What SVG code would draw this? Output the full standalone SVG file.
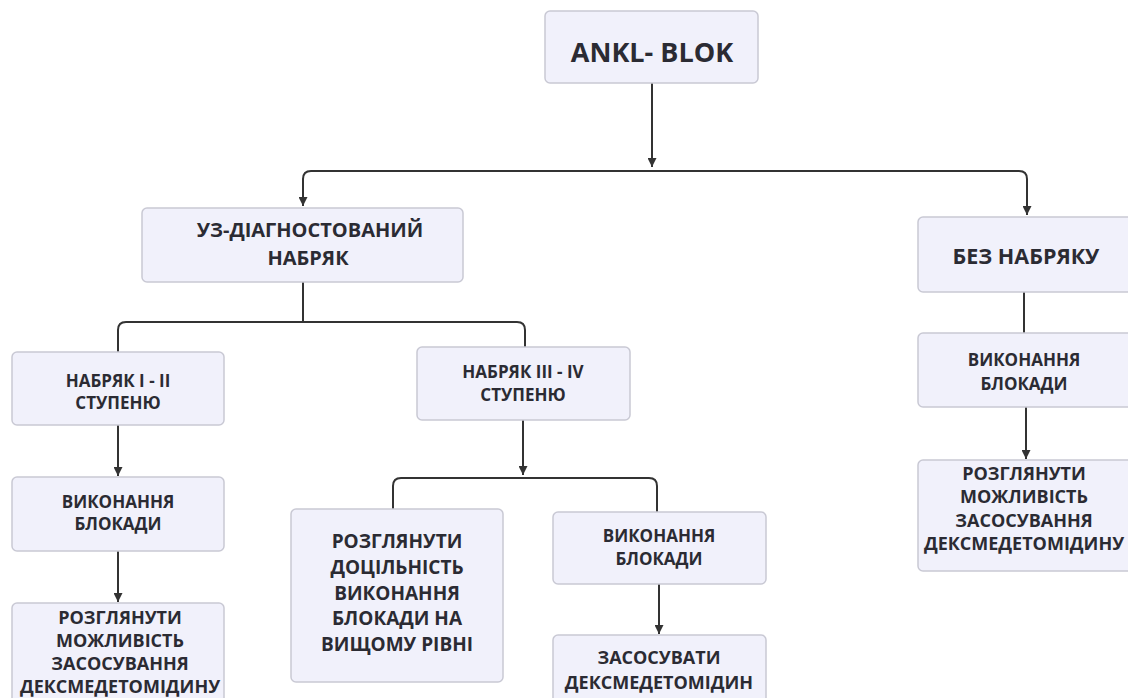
<svg xmlns="http://www.w3.org/2000/svg" width="1128" height="698" viewBox="0 0 1128 698">
<style>
.box{fill:#f1f1fb;stroke:#c9c9d4;stroke-width:1.5}
.t{font-family:"Open Sans","Noto Sans","DejaVu Sans",sans-serif;font-weight:700;fill:#2b2b33;text-anchor:middle}
.c{fill:none;stroke:#333;stroke-width:2}
</style>
<defs>
<marker id="arr" markerUnits="userSpaceOnUse" markerWidth="10" markerHeight="9" refX="9" refY="4.5" orient="auto">
<path d="M0,0 L9,4.5 L0,9 z" fill="#333"/>
</marker>
</defs>
<rect width="1128" height="698" fill="#ffffff"/>
<g id="connectors">
<path class="c" d="M652,83 V167" marker-end="url(#arr)"/>
<path class="c" d="M652,171 H311 Q303,171 303,179 V206" marker-end="url(#arr)"/>
<path class="c" d="M652,171 H1019 Q1027,171 1027,179 V215" marker-end="url(#arr)"/>
<path class="c" d="M303,282 V322 H126 Q118,322 118,330 V352"/>
<path class="c" d="M303,322 H517 Q525,322 525,330 V347"/>
<path class="c" d="M118,425 V476" marker-end="url(#arr)"/>
<path class="c" d="M118,551 V602" marker-end="url(#arr)"/>
<path class="c" d="M523,420 V475" marker-end="url(#arr)"/>
<path class="c" d="M523,478 H401 Q393,478 393,486 V509"/>
<path class="c" d="M523,478 H649 Q657,478 657,486 V512"/>
<path class="c" d="M659,584 V634" marker-end="url(#arr)"/>
<path class="c" d="M1024,292 V333"/>
<path class="c" d="M1026,407 V459" marker-end="url(#arr)"/>
</g>
<g id="n-ankl">
<rect class="box" x="545" y="11" width="213" height="72" rx="5"/>
<text class="t" x="652" y="62" font-size="27">ANKL- BLOK</text>
</g>
<g id="n-uz">
<rect class="box" x="142" y="208" width="321" height="74" rx="5"/>
<text class="t" x="310" y="237" font-size="20">УЗ-ДІАГНОСТОВАНИЙ</text>
<text class="t" x="308" y="265" font-size="20">НАБРЯК</text>
</g>
<g id="n-bez">
<rect class="box" x="918" y="217" width="220" height="75" rx="5"/>
<text class="t" x="1026" y="264" font-size="21.5">БЕЗ НАБРЯКУ</text>
</g>
<g id="n-12">
<rect class="box" x="12" y="352" width="212" height="73" rx="5"/>
<text class="t" x="118" y="387" font-size="17">НАБРЯК І - ІІ</text>
<text class="t" x="118" y="409" font-size="17">СТУПЕНЮ</text>
</g>
<g id="n-34">
<rect class="box" x="417" y="347" width="213" height="73" rx="5"/>
<text class="t" x="523" y="378" font-size="17">НАБРЯК ІІІ - IV</text>
<text class="t" x="523" y="401" font-size="17">СТУПЕНЮ</text>
</g>
<g id="n-vyk1">
<rect class="box" x="12" y="477" width="212" height="74" rx="5"/>
<text class="t" x="118" y="508" font-size="17">ВИКОНАННЯ</text>
<text class="t" x="118" y="530" font-size="17">БЛОКАДИ</text>
</g>
<g id="n-roz1">
<rect class="box" x="12" y="603" width="212" height="105" rx="5"/>
<text class="t" x="120" y="624" font-size="18">РОЗГЛЯНУТИ</text>
<text class="t" x="120" y="647" font-size="18">МОЖЛИВІСТЬ</text>
<text class="t" x="120" y="670" font-size="18">ЗАСОСУВАННЯ</text>
<text class="t" x="120" y="693" font-size="18">ДЕКСМЕДЕТОМІДИНУ</text>
</g>
<g id="n-rozd">
<rect class="box" x="291" y="509" width="212" height="173" rx="5"/>
<text class="t" x="397" y="548" font-size="19">РОЗГЛЯНУТИ</text>
<text class="t" x="397" y="574" font-size="19">ДОЦІЛЬНІСТЬ</text>
<text class="t" x="397" y="600" font-size="19">ВИКОНАННЯ</text>
<text class="t" x="397" y="625" font-size="19">БЛОКАДИ НА</text>
<text class="t" x="397" y="651" font-size="19">ВИЩОМУ РІВНІ</text>
</g>
<g id="n-vyk2">
<rect class="box" x="553" y="512" width="213" height="72" rx="5"/>
<text class="t" x="659" y="542" font-size="17">ВИКОНАННЯ</text>
<text class="t" x="659" y="565" font-size="17">БЛОКАДИ</text>
</g>
<g id="n-zas">
<rect class="box" x="553" y="635" width="213" height="75" rx="5"/>
<text class="t" x="659" y="664" font-size="18">ЗАСОСУВАТИ</text>
<text class="t" x="659" y="689" font-size="18">ДЕКСМЕДЕТОМІДИН</text>
</g>
<g id="n-vyk3">
<rect class="box" x="918" y="333" width="220" height="74" rx="5"/>
<text class="t" x="1024" y="366" font-size="17">ВИКОНАННЯ</text>
<text class="t" x="1024" y="390" font-size="17">БЛОКАДИ</text>
</g>
<g id="n-roz3">
<rect class="box" x="918" y="460" width="220" height="111" rx="5"/>
<text class="t" x="1024" y="480" font-size="18">РОЗГЛЯНУТИ</text>
<text class="t" x="1024" y="503" font-size="18">МОЖЛИВІСТЬ</text>
<text class="t" x="1024" y="527" font-size="18">ЗАСОСУВАННЯ</text>
<text class="t" x="1024" y="550" font-size="18">ДЕКСМЕДЕТОМІДИНУ</text>
</g>
</svg>
